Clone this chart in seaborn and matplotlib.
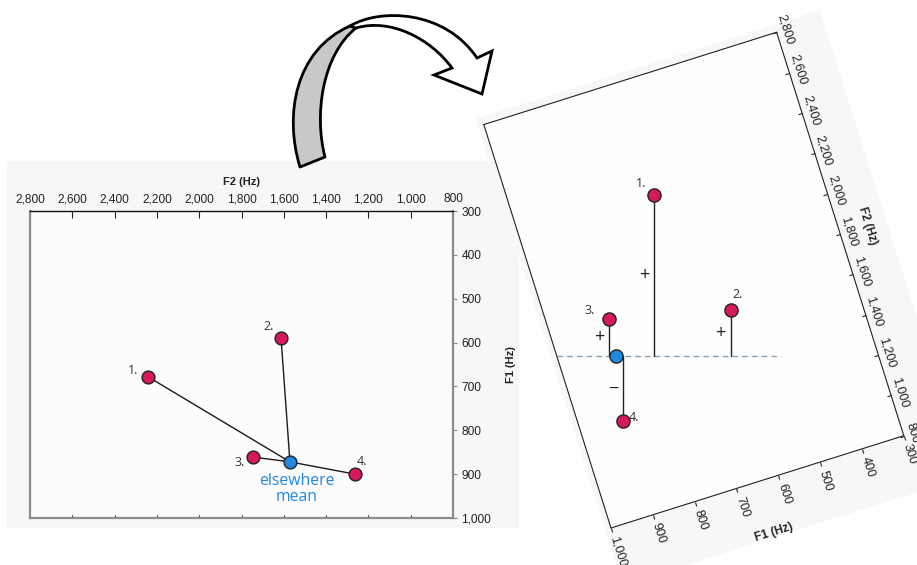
import numpy as np
import pandas as pd
import matplotlib
matplotlib.use("Agg")
import matplotlib.pyplot as plt
import seaborn as sns
from matplotlib.patches import PathPatch, Polygon, Rectangle
from matplotlib.path import Path
from matplotlib.ticker import FuncFormatter
from matplotlib.transforms import Affine2D
from mpl_toolkits.axisartist import floating_axes
from mpl_toolkits.axisartist.grid_finder import FixedLocator, DictFormatter

# ---- vowel measurements ---------------------------------------------------
token_labels = ["1.", "2.", "3.", "4."]
token_f1 = [678, 590, 861, 900]        # Hz
token_f2 = [2242, 1613, 1746, 1263]    # Hz
mean_label = "elsewhere\nmean"
mean_f1 = 872
mean_f2 = 1571

f1_ticks = [300, 400, 500, 600, 700, 800, 900, 1000]
f2_ticks = [800, 1000, 1200, 1400, 1600, 1800, 2000, 2200, 2400, 2600, 2800]
f1_lim = (300, 1000)
f2_lim = (800, 2800)

# label placement (pixels: dx to the right, dy downwards)
left_label_offsets = [(-15, -6), (-12, -12), (-13, 5), (7, -13)]
right_label_offsets = [(-13, -11), (7, -15), (-19, -8), (11, -4)]

token_color = "#d6185c"
mean_color = "#1f88e2"
edge_color = "#222222"
tilt_deg = 17.5

W, H = 917, 565
sns.set_style("white")
plt.rcParams["font.family"] = ["Liberation Sans", "DejaVu Sans"]
label_font = ["Open Sans", "DejaVu Sans"]

fig = plt.figure(figsize=(W / 100, H / 100), dpi=100)
fig.patch.set_facecolor("white")


def fig_rect(x0, y0, x1, y1):
    """Pixel box (origin top-left) -> figure-fraction rect."""
    return [x0 / W, 1 - y1 / H, (x1 - x0) / W, (y1 - y0) / H]


fig.add_artist(Rectangle((7 / W, 1 - 528 / H), (519 - 7) / W, (528 - 161) / H,
                         transform=fig.transFigure, facecolor="#f7f7f7",
                         edgecolor="none", zorder=-10))

tokens = pd.DataFrame({"label": token_labels, "F1": token_f1, "F2": token_f2})
mean_df = pd.DataFrame({"F1": [mean_f1], "F2": [mean_f2]})
hz_fmt = FuncFormatter(lambda v, _: f"{int(round(v)):,}")

# ---- standard vowel chart ---------------------------------------------------
L_BOX = (30, 211, 453, 518)
axL = fig.add_axes(fig_rect(*L_BOX))
axL.set_facecolor("#fcfcfc")
for f1, f2 in zip(token_f1, token_f2):
    axL.plot([mean_f2, f2], [mean_f1, f1], color="#1a1a1a", lw=1, zorder=2)
sns.scatterplot(data=tokens, x="F2", y="F1", ax=axL, color=token_color, s=85,
                edgecolor=edge_color, linewidth=1, zorder=3)
sns.scatterplot(data=mean_df, x="F2", y="F1", ax=axL, color=mean_color, s=85,
                edgecolor=edge_color, linewidth=1, zorder=4)
axL.set_xlim(f2_lim[1], f2_lim[0])
axL.set_ylim(f1_lim[1], f1_lim[0])
axL.set_xticks(f2_ticks)
axL.set_yticks(f1_ticks)
axL.xaxis.set_major_formatter(hz_fmt)
axL.yaxis.set_major_formatter(hz_fmt)
axL.tick_params(axis="x", top=True, bottom=True, labeltop=True, labelbottom=False,
                direction="in", length=5, width=0.8, color="#222222",
                labelsize=8.6, labelcolor="#222222", pad=4)
axL.tick_params(axis="y", left=True, right=True, labelleft=False, labelright=True,
                direction="out", length=3, width=0.8, color="#888888",
                labelsize=8.6, labelcolor="#222222", pad=3)
for t in axL.xaxis.get_major_ticks():
    t.tick1line.set_markersize(2)
    t.tick1line.set_color("#888888")
for t in axL.yaxis.get_major_ticks():
    t.tick1line.set_markersize(0)
axL.xaxis.set_label_position("top")
axL.yaxis.set_label_position("right")
axL.set_xlabel("F2 (Hz)", fontsize=8, fontweight="bold", labelpad=6, color="#222222")
axL.set_ylabel("F1 (Hz)", fontsize=8, fontweight="bold", labelpad=11, color="#222222")
for side, sp in axL.spines.items():
    sp.set_visible(True)
    if side == "top":
        sp.set_color("#111111")
        sp.set_linewidth(1.0)
    else:
        sp.set_color("#8c8c8c")
        sp.set_linewidth(1.6)

for lab, f1, f2, (dx, dy) in zip(token_labels, token_f1, token_f2, left_label_offsets):
    axL.annotate(lab, (f2, f1), xytext=(dx, -dy), textcoords="offset pixels",
                 ha="center", va="center", fontsize=9, family=label_font, color="#333333")
axL.annotate(mean_label, (mean_f2, mean_f1), xytext=(7, -27), textcoords="offset pixels",
             ha="center", va="center", fontsize=11.3, family=label_font,
             color=mean_color, linespacing=1.05)

# ---- rotated chart ----------------------------------------------------------
px_f2 = (L_BOX[2] - L_BOX[0]) / (f2_lim[1] - f2_lim[0])   # pixels per Hz
px_f1 = (L_BOX[3] - L_BOX[1]) / (f1_lim[1] - f1_lim[0])
tr = (Affine2D().translate(-f1_lim[1], -f2_lim[0])
      .scale(-px_f1, px_f2).rotate_deg(tilt_deg))

grid_helper = floating_axes.GridHelperCurveLinear(
    tr, extremes=(f1_lim[0], f1_lim[1], f2_lim[0], f2_lim[1]),
    grid_locator1=FixedLocator(f1_ticks), grid_locator2=FixedLocator(f2_ticks),
    tick_formatter1=DictFormatter({v: f"{v:,}" for v in f1_ticks}),
    tick_formatter2=DictFormatter({v: f"{v:,}" for v in f2_ticks}))
axR = fig.add_axes([0.55, 0.1, 0.4, 0.8], axes_class=floating_axes.FloatingAxes,
                   grid_helper=grid_helper)
x0, x1 = axR.get_xlim()
y0, y1 = axR.get_ylim()
corner = (611, H - 528)   # display position of the F1=1000 / F2=800 corner
axR.set_position([(corner[0] + x0) / W, (corner[1] + y0) / H, (x1 - x0) / W, (y1 - y0) / H])
axR.patch.set_facecolor("#fefefe")
aux = axR.get_aux_axes(tr)

for side in ["left", "right", "bottom", "top"]:
    axR.axis[side].line.set_linewidth(0.8)
    axR.axis[side].line.set_color("#222222")
for side in ["right", "top"]:
    axR.axis[side].major_ticklabels.set_visible(False)
    axR.axis[side].major_ticks.set_visible(False)
    axR.axis[side].label.set_visible(False)

b = axR.axis["bottom"]          # F2 = 800 edge, carries the F1 scale
b.major_ticklabels.set_axis_direction("right")
b.set_ticklabel_direction("-")
b.set_axislabel_direction("-")
b.major_ticks.set_tick_out(True)
b.major_ticks.set_ticksize(3)
b.major_ticklabels.set_fontsize(9)
b.major_ticklabels.set_color("#222222")
b.label.set_text("F1 (Hz)")
b.label.set_fontsize(8.5)
b.label.set_fontweight("bold")

l = axR.axis["left"]            # F1 = 300 edge, carries the F2 scale
l.major_ticklabels.set_axis_direction("top")
l.set_ticklabel_direction("+")
l.label.set_axis_direction("top")
l.set_axislabel_direction("+")
l.major_ticks.set_ticksize(3)
l.major_ticklabels.set_fontsize(9)
l.major_ticklabels.set_color("#222222")
l.label.set_text("F2 (Hz)")
l.label.set_fontsize(8.5)
l.label.set_fontweight("bold")

# soft panel background following the tilt
mL, mR = 6 / px_f1, 48 / px_f1
mB, mT = 58 / px_f2, 8 / px_f2
bg = Polygon([(f1_lim[1] + mL, f2_lim[0] - mB), (f1_lim[0] - mR, f2_lim[0] - mB),
              (f1_lim[0] - mR, f2_lim[1] + mT), (f1_lim[1] + mL, f2_lim[1] + mT)],
             closed=True, transform=aux.transData, facecolor="#f7f7f7",
             edgecolor="none", zorder=-9)
fig.add_artist(bg)

# reference line through the mean (horizontal on screen) and distances to it
to_disp = aux.transData
inv = aux.transData.inverted()
pts = to_disp.transform(np.column_stack([token_f1, token_f2]))
m_disp = to_disp.transform([[mean_f1, mean_f2]])[0]
edge = to_disp.transform([[f1_lim[1], f2_lim[0]], [f1_lim[1], f2_lim[1]]])
x_left = edge[0, 0] + (m_disp[1] - edge[0, 1]) / (edge[1, 1] - edge[0, 1]) * (edge[1, 0] - edge[0, 0])
x_right = pts[:, 0].max() + 50
dash = inv.transform([[x_left, m_disp[1]], [x_right, m_disp[1]]])
aux.plot(dash[:, 0], dash[:, 1], color="#86a0b2", lw=1, dashes=(4, 3), zorder=1)

for (px, py), f1, f2 in zip(pts, token_f1, token_f2):
    foot = inv.transform([[px, m_disp[1]]])[0]
    aux.plot([f1, foot[0]], [f2, foot[1]], color="#222222", lw=1, zorder=2)
    mid = inv.transform([[px - 10, (py + m_disp[1]) / 2]])[0]
    aux.text(mid[0], mid[1], "+" if py > m_disp[1] else "\u2212", ha="center", va="center",
             fontsize=13, family=label_font, color="#222222")

sns.scatterplot(data=tokens, x="F1", y="F2", ax=aux, color=token_color, s=90,
                edgecolor=edge_color, linewidth=1, zorder=3)
sns.scatterplot(data=mean_df, x="F1", y="F2", ax=aux, color=mean_color, s=90,
                edgecolor=edge_color, linewidth=1, zorder=4)
for lab, f1, f2, (dx, dy) in zip(token_labels, token_f1, token_f2, right_label_offsets):
    aux.annotate(lab, (f1, f2), xytext=(dx, -dy), textcoords="offset pixels",
                 ha="center", va="center", fontsize=9, family=label_font, color="#333333")

# ---- curved arrow between the two charts -----------------------------------
ov = fig.add_axes([0, 0, 1, 1], zorder=10)
ov.set_xlim(0, W)
ov.set_ylim(H, 0)
ov.axis("off")
ov.patch.set_alpha(0)

M, C, Lt, X = Path.MOVETO, Path.CURVE4, Path.LINETO, Path.CLOSEPOLY
back = Path([(300, 167), (284, 115), (295, 50), (350, 26), (356, 28),
             (322, 55), (314, 115), (325, 157), (300, 167)],
            [M, C, C, C, Lt, C, C, C, X])
front = Path([(350, 26), (380, 8), (445, 10), (477, 58), (492, 51), (482, 94),
              (434, 75), (452, 68), (430, 38), (390, 18), (356, 28), (350, 26)],
             [M, C, C, C, Lt, Lt, Lt, Lt, C, C, C, X])
ov.add_patch(PathPatch(back, facecolor="#c8c8c8", edgecolor="black", lw=2, joinstyle="round"))
ov.add_patch(PathPatch(front, facecolor="white", edgecolor="black", lw=2, joinstyle="miter"))

fig.savefig("out.png", dpi=100)
